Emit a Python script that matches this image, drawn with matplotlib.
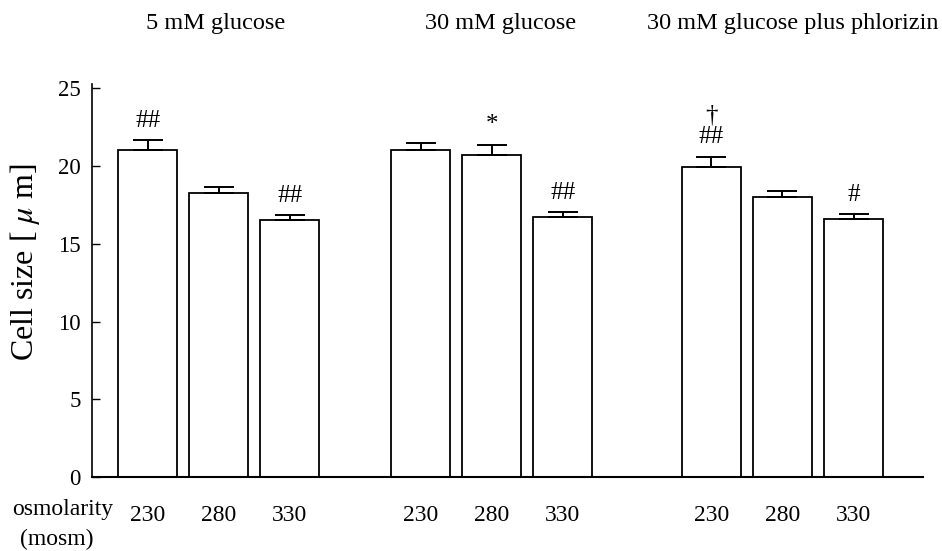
import numpy as np
import matplotlib
matplotlib.use("Agg")
import matplotlib.pyplot as plt

plt.rcParams['font.family'] = ['Liberation Serif', 'DejaVu Serif']
plt.rcParams['mathtext.fontset'] = 'stix'

groups = ["5 mM glucose", "30 mM glucose", "30 mM glucose plus phlorizin"]
osmolarity = ["230", "280", "330"]
cell_size = [21.0, 18.25, 16.5,
             21.0, 20.7, 16.75,
             19.95, 18.0, 16.6]
sem = [0.65, 0.4, 0.35,
       0.5, 0.67, 0.3,
       0.65, 0.39, 0.32]
marks = ["##", "", "##",
         "", "*", "##",
         "\u2020\n##", "", "#"]

group_starts = [0.0, 3.84, 7.93]
pos = np.array([g + i for g in group_starts for i in range(3)])

fig = plt.figure(figsize=(9.42, 5.51), dpi=100)
ax = fig.add_axes([0.0973, 0.1343, 0.8827, 0.714])

ax.bar(pos, cell_size, width=0.83, color="white", edgecolor="black",
       linewidth=1.3, yerr=[np.zeros(len(sem)), sem],
       error_kw=dict(ecolor="black", elinewidth=1.4, capsize=11, capthick=1.4))

for x, v, e, m in zip(pos, cell_size, sem, marks):
    if m:
        ax.annotate(m, (x, v + e), xytext=(0, 6), textcoords="offset points",
                    ha="center", va="bottom", fontsize=18, linespacing=1.0)

ax.set_xlim(-0.79, 10.91)
ax.set_ylim(0, 25.3)
ax.set_yticks([0, 5, 10, 15, 20, 25])
ax.tick_params(axis="y", direction="in", length=6, width=1, labelsize=16.5, pad=8)
ax.set_xticks(pos, osmolarity * 3)
ax.tick_params(axis="x", length=0, labelsize=17, pad=20)
for s in ["top", "right"]:
    ax.spines[s].set_visible(False)
ax.spines["left"].set_linewidth(1.2)
ax.spines["bottom"].set_linewidth(1.5)

# group titles sit a little right of the bar groups in the original
title_x = [216, 501, 793]
for px, name in zip(title_x, groups):
    fig.text(px / 942, 1 - 23 / 551, name, ha="center", va="center", fontsize=17.5)

fig.text(25 / 942, 1 - 262 / 551, "Cell size [ $\\mu$ m]", rotation=90,
         ha="center", va="center", fontsize=23)
fig.text(12 / 942, 1 - 510 / 551, "osmolarity", ha="left", va="center", fontsize=17)
fig.text(20 / 942, 1 - 539 / 551, "(mosm)", ha="left", va="center", fontsize=17)

fig.savefig("out.png", dpi=100)
